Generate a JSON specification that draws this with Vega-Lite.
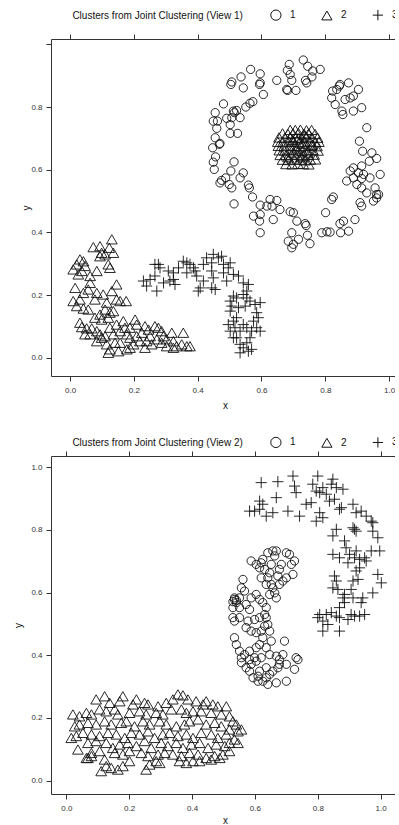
{
"$schema":"https://vega.github.io/schema/vega-lite/v6.json",
"padding":{"left":13,"top":8,"right":-4,"bottom":0},
"bounds":"flush",
"spacing":80,
"config":{"view":{"stroke":null},"font":"Liberation Sans",
 "axis":{"grid":false,"domainColor":"#333","tickColor":"#333","labelColor":"#333","titleColor":"#111","labelFontSize":8,"titleFontSize":10,"titleFontWeight":"normal","tickSize":5,"domainWidth":1,"tickWidth":1,"labelFont":"Liberation Sans","titleFont":"Liberation Sans"},
 "legend":{"padding":0,"titleFontSize":10,"titleFontWeight":"normal","labelFontSize":10,"titleColor":"#111","labelColor":"#111","titleLimit":400,"titlePadding":26.5,"labelOffset":8,"columnPadding":23,"symbolSize":105,"symbolStrokeWidth":1,"symbolStrokeColor":"#111","direction":"horizontal","titleOrient":"left","orient":"none","titleFont":"Liberation Sans","labelFont":"Liberation Sans"}
},
"datasets":{
"v1":[
{"x":0.731,"y":0.950,"c":"1"},{"x":0.745,"y":0.930,"c":"1"},{"x":0.761,"y":0.915,"c":"1"},{"x":0.784,"y":0.920,"c":"1"},{"x":0.687,"y":0.936,"c":"1"},{"x":0.681,"y":0.917,"c":"1"},{"x":0.690,"y":0.904,"c":"1"},{"x":0.566,"y":0.920,"c":"1"},{"x":0.596,"y":0.906,"c":"1"},{"x":0.536,"y":0.896,"c":"1"},{"x":0.507,"y":0.880,"c":"1"},{"x":0.504,"y":0.872,"c":"1"},{"x":0.543,"y":0.861,"c":"1"},{"x":0.596,"y":0.877,"c":"1"},{"x":0.594,"y":0.872,"c":"1"},{"x":0.648,"y":0.885,"c":"1"},{"x":0.695,"y":0.885,"c":"1"},{"x":0.738,"y":0.885,"c":"1"},{"x":0.742,"y":0.877,"c":"1"},{"x":0.682,"y":0.853,"c":"1"},{"x":0.708,"y":0.853,"c":"1"},{"x":0.606,"y":0.840,"c":"1"},{"x":0.573,"y":0.817,"c":"1"},{"x":0.564,"y":0.812,"c":"1"},{"x":0.481,"y":0.810,"c":"1"},{"x":0.455,"y":0.782,"c":"1"},{"x":0.449,"y":0.755,"c":"1"},{"x":0.462,"y":0.755,"c":"1"},{"x":0.491,"y":0.764,"c":"1"},{"x":0.507,"y":0.766,"c":"1"},{"x":0.512,"y":0.787,"c":"1"},{"x":0.522,"y":0.789,"c":"1"},{"x":0.533,"y":0.766,"c":"1"},{"x":0.515,"y":0.782,"c":"1"},{"x":0.551,"y":0.800,"c":"1"},{"x":0.502,"y":0.744,"c":"1"},{"x":0.460,"y":0.732,"c":"1"},{"x":0.502,"y":0.716,"c":"1"},{"x":0.525,"y":0.716,"c":"1"},{"x":0.455,"y":0.702,"c":"1"},{"x":0.468,"y":0.681,"c":"1"},{"x":0.470,"y":0.684,"c":"1"},{"x":0.447,"y":0.670,"c":"1"},{"x":0.456,"y":0.641,"c":"1"},{"x":0.449,"y":0.624,"c":"1"},{"x":0.452,"y":0.601,"c":"1"},{"x":0.514,"y":0.625,"c":"1"},{"x":0.504,"y":0.596,"c":"1"},{"x":0.543,"y":0.590,"c":"1"},{"x":0.533,"y":0.574,"c":"1"},{"x":0.475,"y":0.566,"c":"1"},{"x":0.470,"y":0.558,"c":"1"},{"x":0.499,"y":0.553,"c":"1"},{"x":0.507,"y":0.542,"c":"1"},{"x":0.488,"y":0.574,"c":"1"},{"x":0.559,"y":0.551,"c":"1"},{"x":0.562,"y":0.542,"c":"1"},{"x":0.572,"y":0.513,"c":"1"},{"x":0.596,"y":0.487,"c":"1"},{"x":0.617,"y":0.484,"c":"1"},{"x":0.627,"y":0.505,"c":"1"},{"x":0.648,"y":0.502,"c":"1"},{"x":0.658,"y":0.473,"c":"1"},{"x":0.633,"y":0.484,"c":"1"},{"x":0.514,"y":0.491,"c":"1"},{"x":0.575,"y":0.452,"c":"1"},{"x":0.596,"y":0.457,"c":"1"},{"x":0.594,"y":0.436,"c":"1"},{"x":0.596,"y":0.399,"c":"1"},{"x":0.637,"y":0.441,"c":"1"},{"x":0.690,"y":0.466,"c":"1"},{"x":0.700,"y":0.463,"c":"1"},{"x":0.711,"y":0.436,"c":"1"},{"x":0.737,"y":0.428,"c":"1"},{"x":0.740,"y":0.422,"c":"1"},{"x":0.695,"y":0.399,"c":"1"},{"x":0.684,"y":0.372,"c":"1"},{"x":0.700,"y":0.362,"c":"1"},{"x":0.695,"y":0.351,"c":"1"},{"x":0.716,"y":0.378,"c":"1"},{"x":0.744,"y":0.391,"c":"1"},{"x":0.752,"y":0.364,"c":"1"},{"x":0.789,"y":0.399,"c":"1"},{"x":0.805,"y":0.402,"c":"1"},{"x":0.815,"y":0.401,"c":"1"},{"x":0.848,"y":0.399,"c":"1"},{"x":0.873,"y":0.404,"c":"1"},{"x":0.857,"y":0.436,"c":"1"},{"x":0.846,"y":0.428,"c":"1"},{"x":0.893,"y":0.441,"c":"1"},{"x":0.801,"y":0.463,"c":"1"},{"x":0.825,"y":0.513,"c":"1"},{"x":0.820,"y":0.505,"c":"1"},{"x":0.867,"y":0.564,"c":"1"},{"x":0.888,"y":0.574,"c":"1"},{"x":0.914,"y":0.572,"c":"1"},{"x":0.878,"y":0.596,"c":"1"},{"x":0.904,"y":0.590,"c":"1"},{"x":0.920,"y":0.585,"c":"1"},{"x":0.899,"y":0.553,"c":"1"},{"x":0.914,"y":0.542,"c":"1"},{"x":0.930,"y":0.526,"c":"1"},{"x":0.940,"y":0.574,"c":"1"},{"x":0.972,"y":0.585,"c":"1"},{"x":0.956,"y":0.542,"c":"1"},{"x":0.967,"y":0.521,"c":"1"},{"x":0.961,"y":0.521,"c":"1"},{"x":0.961,"y":0.510,"c":"1"},{"x":0.951,"y":0.500,"c":"1"},{"x":0.909,"y":0.495,"c":"1"},{"x":0.914,"y":0.484,"c":"1"},{"x":0.888,"y":0.606,"c":"1"},{"x":0.914,"y":0.612,"c":"1"},{"x":0.938,"y":0.627,"c":"1"},{"x":0.946,"y":0.654,"c":"1"},{"x":0.961,"y":0.636,"c":"1"},{"x":0.917,"y":0.659,"c":"1"},{"x":0.907,"y":0.691,"c":"1"},{"x":0.930,"y":0.734,"c":"1"},{"x":0.914,"y":0.798,"c":"1"},{"x":0.888,"y":0.787,"c":"1"},{"x":0.878,"y":0.829,"c":"1"},{"x":0.888,"y":0.835,"c":"1"},{"x":0.862,"y":0.824,"c":"1"},{"x":0.904,"y":0.856,"c":"1"},{"x":0.873,"y":0.877,"c":"1"},{"x":0.846,"y":0.872,"c":"1"},{"x":0.836,"y":0.856,"c":"1"},{"x":0.823,"y":0.851,"c":"1"},{"x":0.844,"y":0.867,"c":"1"},{"x":0.820,"y":0.829,"c":"1"},{"x":0.831,"y":0.808,"c":"1"},{"x":0.852,"y":0.787,"c":"1"},{"x":0.855,"y":0.776,"c":"1"},{"x":0.758,"y":0.896,"c":"1"},{"x":0.679,"y":0.856,"c":"1"},
{"x":0.690,"y":0.727,"c":"2"},{"x":0.706,"y":0.727,"c":"2"},{"x":0.722,"y":0.728,"c":"2"},{"x":0.741,"y":0.726,"c":"2"},{"x":0.757,"y":0.727,"c":"2"},
{"x":0.666,"y":0.716,"c":"2"},{"x":0.683,"y":0.714,"c":"2"},{"x":0.699,"y":0.716,"c":"2"},{"x":0.716,"y":0.717,"c":"2"},{"x":0.733,"y":0.715,"c":"2"},{"x":0.748,"y":0.716,"c":"2"},{"x":0.768,"y":0.714,"c":"2"},
{"x":0.655,"y":0.703,"c":"2"},{"x":0.673,"y":0.702,"c":"2"},{"x":0.690,"y":0.704,"c":"2"},{"x":0.707,"y":0.703,"c":"2"},{"x":0.726,"y":0.701,"c":"2"},{"x":0.741,"y":0.704,"c":"2"},{"x":0.758,"y":0.703,"c":"2"},{"x":0.776,"y":0.702,"c":"2"},
{"x":0.651,"y":0.689,"c":"2"},{"x":0.667,"y":0.688,"c":"2"},{"x":0.686,"y":0.690,"c":"2"},{"x":0.701,"y":0.689,"c":"2"},{"x":0.719,"y":0.687,"c":"2"},{"x":0.736,"y":0.689,"c":"2"},{"x":0.753,"y":0.690,"c":"2"},{"x":0.769,"y":0.688,"c":"2"},{"x":0.780,"y":0.689,"c":"2"},
{"x":0.653,"y":0.676,"c":"2"},{"x":0.671,"y":0.675,"c":"2"},{"x":0.689,"y":0.677,"c":"2"},{"x":0.704,"y":0.676,"c":"2"},{"x":0.723,"y":0.674,"c":"2"},{"x":0.739,"y":0.676,"c":"2"},{"x":0.757,"y":0.677,"c":"2"},{"x":0.774,"y":0.675,"c":"2"},
{"x":0.656,"y":0.662,"c":"2"},{"x":0.673,"y":0.661,"c":"2"},{"x":0.691,"y":0.663,"c":"2"},{"x":0.709,"y":0.662,"c":"2"},{"x":0.727,"y":0.660,"c":"2"},{"x":0.744,"y":0.662,"c":"2"},{"x":0.761,"y":0.663,"c":"2"},{"x":0.777,"y":0.661,"c":"2"},
{"x":0.659,"y":0.647,"c":"2"},{"x":0.677,"y":0.646,"c":"2"},{"x":0.694,"y":0.648,"c":"2"},{"x":0.713,"y":0.647,"c":"2"},{"x":0.731,"y":0.645,"c":"2"},{"x":0.747,"y":0.647,"c":"2"},{"x":0.765,"y":0.648,"c":"2"},
{"x":0.666,"y":0.632,"c":"2"},{"x":0.684,"y":0.631,"c":"2"},{"x":0.702,"y":0.633,"c":"2"},{"x":0.719,"y":0.632,"c":"2"},{"x":0.736,"y":0.630,"c":"2"},{"x":0.753,"y":0.632,"c":"2"},{"x":0.769,"y":0.633,"c":"2"},
{"x":0.677,"y":0.618,"c":"2"},{"x":0.696,"y":0.617,"c":"2"},{"x":0.714,"y":0.619,"c":"2"},{"x":0.731,"y":0.618,"c":"2"},{"x":0.748,"y":0.617,"c":"2"},
{"x":0.698,"y":0.695,"c":"2"},{"x":0.712,"y":0.668,"c":"2"},{"x":0.728,"y":0.683,"c":"2"},{"x":0.745,"y":0.655,"c":"2"},{"x":0.683,"y":0.640,"c":"2"},{"x":0.735,"y":0.710,"c":"2"},{"x":0.700,"y":0.655,"c":"2"},{"x":0.725,"y":0.640,"c":"2"},{"x":0.715,"y":0.700,"c":"2"},{"x":0.760,"y":0.680,"c":"2"},
{"x":0.131,"y":0.378,"c":"2"},{"x":0.094,"y":0.356,"c":"2"},{"x":0.073,"y":0.353,"c":"2"},{"x":0.099,"y":0.335,"c":"2"},{"x":0.123,"y":0.351,"c":"2"},{"x":0.136,"y":0.335,"c":"2"},{"x":0.031,"y":0.314,"c":"2"},{"x":0.042,"y":0.308,"c":"2"},{"x":0.021,"y":0.298,"c":"2"},{"x":0.047,"y":0.293,"c":"2"},{"x":0.010,"y":0.282,"c":"2"},{"x":0.037,"y":0.277,"c":"2"},{"x":0.026,"y":0.266,"c":"2"},{"x":0.084,"y":0.277,"c":"2"},{"x":0.063,"y":0.261,"c":"2"},{"x":0.120,"y":0.298,"c":"2"},{"x":0.125,"y":0.287,"c":"2"},{"x":0.094,"y":0.324,"c":"2"},{"x":0.110,"y":0.330,"c":"2"},{"x":0.146,"y":0.234,"c":"2"},{"x":0.131,"y":0.213,"c":"2"},{"x":0.146,"y":0.186,"c":"2"},{"x":0.157,"y":0.181,"c":"2"},{"x":0.176,"y":0.181,"c":"2"},{"x":0.115,"y":0.176,"c":"2"},{"x":0.084,"y":0.207,"c":"2"},{"x":0.104,"y":0.202,"c":"2"},{"x":0.063,"y":0.239,"c":"2"},{"x":0.057,"y":0.218,"c":"2"},{"x":0.042,"y":0.207,"c":"2"},{"x":0.078,"y":0.186,"c":"2"},{"x":0.031,"y":0.186,"c":"2"},{"x":0.016,"y":0.223,"c":"2"},{"x":0.010,"y":0.181,"c":"2"},{"x":0.021,"y":0.165,"c":"2"},{"x":0.057,"y":0.154,"c":"2"},{"x":0.042,"y":0.157,"c":"2"},{"x":0.110,"y":0.154,"c":"2"},{"x":0.125,"y":0.144,"c":"2"},{"x":0.136,"y":0.149,"c":"2"},{"x":0.120,"y":0.128,"c":"2"},{"x":0.099,"y":0.122,"c":"2"},{"x":0.094,"y":0.138,"c":"2"},{"x":0.078,"y":0.128,"c":"2"},{"x":0.031,"y":0.112,"c":"2"},{"x":0.037,"y":0.098,"c":"2"},{"x":0.052,"y":0.094,"c":"2"},{"x":0.068,"y":0.094,"c":"2"},{"x":0.084,"y":0.085,"c":"2"},{"x":0.094,"y":0.075,"c":"2"},{"x":0.110,"y":0.069,"c":"2"},{"x":0.125,"y":0.096,"c":"2"},{"x":0.136,"y":0.075,"c":"2"},{"x":0.146,"y":0.106,"c":"2"},{"x":0.157,"y":0.085,"c":"2"},{"x":0.172,"y":0.096,"c":"2"},{"x":0.178,"y":0.075,"c":"2"},{"x":0.188,"y":0.064,"c":"2"},{"x":0.204,"y":0.122,"c":"2"},{"x":0.209,"y":0.069,"c":"2"},{"x":0.225,"y":0.080,"c":"2"},{"x":0.235,"y":0.101,"c":"2"},{"x":0.246,"y":0.090,"c":"2"},{"x":0.251,"y":0.069,"c":"2"},{"x":0.266,"y":0.101,"c":"2"},{"x":0.277,"y":0.096,"c":"2"},{"x":0.287,"y":0.085,"c":"2"},{"x":0.293,"y":0.069,"c":"2"},{"x":0.303,"y":0.059,"c":"2"},{"x":0.272,"y":0.059,"c":"2"},{"x":0.240,"y":0.053,"c":"2"},{"x":0.219,"y":0.053,"c":"2"},{"x":0.199,"y":0.043,"c":"2"},{"x":0.178,"y":0.027,"c":"2"},{"x":0.152,"y":0.021,"c":"2"},{"x":0.125,"y":0.027,"c":"2"},{"x":0.120,"y":0.016,"c":"2"},{"x":0.188,"y":0.032,"c":"2"},{"x":0.157,"y":0.048,"c":"2"},{"x":0.319,"y":0.080,"c":"2"},{"x":0.355,"y":0.080,"c":"2"},{"x":0.324,"y":0.053,"c":"2"},{"x":0.324,"y":0.032,"c":"2"},{"x":0.334,"y":0.037,"c":"2"},{"x":0.350,"y":0.043,"c":"2"},{"x":0.366,"y":0.037,"c":"2"},{"x":0.376,"y":0.037,"c":"2"},{"x":0.303,"y":0.037,"c":"2"},{"x":0.287,"y":0.048,"c":"2"},{"x":0.115,"y":0.043,"c":"2"},{"x":0.099,"y":0.064,"c":"2"},{"x":0.063,"y":0.075,"c":"2"},{"x":0.141,"y":0.048,"c":"2"},{"x":0.209,"y":0.106,"c":"2"},{"x":0.167,"y":0.117,"c":"2"},{"x":0.188,"y":0.096,"c":"2"},{"x":0.256,"y":0.043,"c":"2"},{"x":0.235,"y":0.032,"c":"2"},{"x":0.047,"y":0.075,"c":"2"},{"x":0.084,"y":0.053,"c":"2"},
{"x":0.230,"y":0.245,"c":"3"},{"x":0.251,"y":0.250,"c":"3"},{"x":0.266,"y":0.261,"c":"3"},{"x":0.277,"y":0.298,"c":"3"},{"x":0.282,"y":0.287,"c":"3"},{"x":0.272,"y":0.213,"c":"3"},{"x":0.293,"y":0.239,"c":"3"},{"x":0.313,"y":0.245,"c":"3"},{"x":0.324,"y":0.250,"c":"3"},{"x":0.329,"y":0.234,"c":"3"},{"x":0.308,"y":0.277,"c":"3"},{"x":0.324,"y":0.271,"c":"3"},{"x":0.355,"y":0.308,"c":"3"},{"x":0.366,"y":0.303,"c":"3"},{"x":0.376,"y":0.298,"c":"3"},{"x":0.387,"y":0.287,"c":"3"},{"x":0.392,"y":0.277,"c":"3"},{"x":0.397,"y":0.261,"c":"3"},{"x":0.408,"y":0.223,"c":"3"},{"x":0.402,"y":0.213,"c":"3"},{"x":0.418,"y":0.245,"c":"3"},{"x":0.428,"y":0.319,"c":"3"},{"x":0.444,"y":0.303,"c":"3"},{"x":0.449,"y":0.330,"c":"3"},{"x":0.465,"y":0.319,"c":"3"},{"x":0.475,"y":0.324,"c":"3"},{"x":0.481,"y":0.298,"c":"3"},{"x":0.444,"y":0.277,"c":"3"},{"x":0.449,"y":0.255,"c":"3"},{"x":0.455,"y":0.218,"c":"3"},{"x":0.444,"y":0.223,"c":"3"},{"x":0.496,"y":0.287,"c":"3"},{"x":0.502,"y":0.303,"c":"3"},{"x":0.512,"y":0.266,"c":"3"},{"x":0.528,"y":0.261,"c":"3"},{"x":0.543,"y":0.239,"c":"3"},{"x":0.559,"y":0.234,"c":"3"},{"x":0.554,"y":0.213,"c":"3"},{"x":0.543,"y":0.202,"c":"3"},{"x":0.554,"y":0.191,"c":"3"},{"x":0.564,"y":0.181,"c":"3"},{"x":0.580,"y":0.170,"c":"3"},{"x":0.596,"y":0.176,"c":"3"},{"x":0.585,"y":0.144,"c":"3"},{"x":0.590,"y":0.128,"c":"3"},{"x":0.575,"y":0.117,"c":"3"},{"x":0.569,"y":0.085,"c":"3"},{"x":0.564,"y":0.064,"c":"3"},{"x":0.554,"y":0.048,"c":"3"},{"x":0.559,"y":0.021,"c":"3"},{"x":0.543,"y":0.032,"c":"3"},{"x":0.533,"y":0.043,"c":"3"},{"x":0.522,"y":0.064,"c":"3"},{"x":0.517,"y":0.096,"c":"3"},{"x":0.512,"y":0.117,"c":"3"},{"x":0.502,"y":0.149,"c":"3"},{"x":0.507,"y":0.165,"c":"3"},{"x":0.528,"y":0.160,"c":"3"},{"x":0.549,"y":0.165,"c":"3"},{"x":0.522,"y":0.191,"c":"3"},{"x":0.512,"y":0.197,"c":"3"},{"x":0.502,"y":0.181,"c":"3"},{"x":0.522,"y":0.128,"c":"3"},{"x":0.543,"y":0.106,"c":"3"},{"x":0.533,"y":0.085,"c":"3"},{"x":0.554,"y":0.096,"c":"3"},{"x":0.585,"y":0.096,"c":"3"},{"x":0.596,"y":0.085,"c":"3"},{"x":0.502,"y":0.085,"c":"3"},{"x":0.512,"y":0.064,"c":"3"},{"x":0.496,"y":0.106,"c":"3"},{"x":0.533,"y":0.016,"c":"3"},{"x":0.569,"y":0.027,"c":"3"},{"x":0.340,"y":0.287,"c":"3"},{"x":0.418,"y":0.298,"c":"3"},{"x":0.266,"y":0.298,"c":"3"},{"x":0.491,"y":0.245,"c":"3"},{"x":0.366,"y":0.271,"c":"3"},{"x":0.240,"y":0.229,"c":"3"},{"x":0.481,"y":0.271,"c":"3"}
],
"v2":[
{"x":0.657,"y":0.733,"c":"1"},{"x":0.641,"y":0.727,"c":"1"},{"x":0.625,"y":0.706,"c":"1"},{"x":0.620,"y":0.695,"c":"1"},{"x":0.663,"y":0.717,"c":"1"},{"x":0.668,"y":0.733,"c":"1"},{"x":0.700,"y":0.727,"c":"1"},{"x":0.710,"y":0.722,"c":"1"},{"x":0.726,"y":0.701,"c":"1"},{"x":0.716,"y":0.690,"c":"1"},{"x":0.721,"y":0.658,"c":"1"},{"x":0.700,"y":0.647,"c":"1"},{"x":0.678,"y":0.674,"c":"1"},{"x":0.684,"y":0.690,"c":"1"},{"x":0.673,"y":0.653,"c":"1"},{"x":0.652,"y":0.690,"c":"1"},{"x":0.647,"y":0.663,"c":"1"},{"x":0.641,"y":0.647,"c":"1"},{"x":0.631,"y":0.674,"c":"1"},{"x":0.615,"y":0.679,"c":"1"},{"x":0.604,"y":0.690,"c":"1"},{"x":0.588,"y":0.701,"c":"1"},{"x":0.620,"y":0.647,"c":"1"},{"x":0.636,"y":0.626,"c":"1"},{"x":0.652,"y":0.626,"c":"1"},{"x":0.657,"y":0.615,"c":"1"},{"x":0.663,"y":0.599,"c":"1"},{"x":0.668,"y":0.583,"c":"1"},{"x":0.647,"y":0.594,"c":"1"},{"x":0.678,"y":0.626,"c":"1"},{"x":0.689,"y":0.637,"c":"1"},{"x":0.562,"y":0.642,"c":"1"},{"x":0.557,"y":0.615,"c":"1"},{"x":0.567,"y":0.605,"c":"1"},{"x":0.551,"y":0.583,"c":"1"},{"x":0.535,"y":0.583,"c":"1"},{"x":0.541,"y":0.568,"c":"1"},{"x":0.530,"y":0.552,"c":"1"},{"x":0.551,"y":0.552,"c":"1"},{"x":0.572,"y":0.562,"c":"1"},{"x":0.583,"y":0.546,"c":"1"},{"x":0.588,"y":0.583,"c":"1"},{"x":0.604,"y":0.594,"c":"1"},{"x":0.615,"y":0.578,"c":"1"},{"x":0.625,"y":0.568,"c":"1"},{"x":0.636,"y":0.552,"c":"1"},{"x":0.631,"y":0.530,"c":"1"},{"x":0.636,"y":0.520,"c":"1"},{"x":0.615,"y":0.520,"c":"1"},{"x":0.599,"y":0.514,"c":"1"},{"x":0.578,"y":0.509,"c":"1"},{"x":0.572,"y":0.488,"c":"1"},{"x":0.588,"y":0.477,"c":"1"},{"x":0.604,"y":0.472,"c":"1"},{"x":0.620,"y":0.477,"c":"1"},{"x":0.631,"y":0.493,"c":"1"},{"x":0.641,"y":0.498,"c":"1"},{"x":0.647,"y":0.477,"c":"1"},{"x":0.625,"y":0.456,"c":"1"},{"x":0.615,"y":0.434,"c":"1"},{"x":0.604,"y":0.424,"c":"1"},{"x":0.583,"y":0.413,"c":"1"},{"x":0.567,"y":0.402,"c":"1"},{"x":0.557,"y":0.392,"c":"1"},{"x":0.551,"y":0.413,"c":"1"},{"x":0.541,"y":0.434,"c":"1"},{"x":0.535,"y":0.456,"c":"1"},{"x":0.530,"y":0.520,"c":"1"},{"x":0.535,"y":0.509,"c":"1"},{"x":0.551,"y":0.520,"c":"1"},{"x":0.694,"y":0.445,"c":"1"},{"x":0.652,"y":0.445,"c":"1"},{"x":0.636,"y":0.424,"c":"1"},{"x":0.647,"y":0.402,"c":"1"},{"x":0.668,"y":0.397,"c":"1"},{"x":0.678,"y":0.386,"c":"1"},{"x":0.689,"y":0.402,"c":"1"},{"x":0.678,"y":0.371,"c":"1"},{"x":0.700,"y":0.371,"c":"1"},{"x":0.673,"y":0.360,"c":"1"},{"x":0.657,"y":0.349,"c":"1"},{"x":0.647,"y":0.339,"c":"1"},{"x":0.636,"y":0.328,"c":"1"},{"x":0.625,"y":0.317,"c":"1"},{"x":0.610,"y":0.317,"c":"1"},{"x":0.594,"y":0.328,"c":"1"},{"x":0.583,"y":0.349,"c":"1"},{"x":0.588,"y":0.371,"c":"1"},{"x":0.604,"y":0.381,"c":"1"},{"x":0.620,"y":0.392,"c":"1"},{"x":0.599,"y":0.392,"c":"1"},{"x":0.583,"y":0.386,"c":"1"},{"x":0.557,"y":0.376,"c":"1"},{"x":0.572,"y":0.360,"c":"1"},{"x":0.726,"y":0.355,"c":"1"},{"x":0.731,"y":0.392,"c":"1"},{"x":0.737,"y":0.386,"c":"1"},{"x":0.610,"y":0.333,"c":"1"},{"x":0.615,"y":0.349,"c":"1"},{"x":0.641,"y":0.307,"c":"1"},{"x":0.668,"y":0.312,"c":"1"},{"x":0.700,"y":0.317,"c":"1"},{"x":0.636,"y":0.360,"c":"1"},{"x":0.535,"y":0.578,"c":"1"},{"x":0.541,"y":0.575,"c":"1"},{"x":0.530,"y":0.571,"c":"1"},
{"x":0.122,"y":0.269,"c":"2"},{"x":0.180,"y":0.269,"c":"2"},{"x":0.223,"y":0.259,"c":"2"},{"x":0.249,"y":0.248,"c":"2"},{"x":0.355,"y":0.275,"c":"2"},{"x":0.371,"y":0.272,"c":"2"},{"x":0.339,"y":0.259,"c":"2"},{"x":0.387,"y":0.259,"c":"2"},{"x":0.413,"y":0.253,"c":"2"},{"x":0.445,"y":0.253,"c":"2"},{"x":0.318,"y":0.248,"c":"2"},{"x":0.170,"y":0.253,"c":"2"},{"x":0.095,"y":0.259,"c":"2"},{"x":0.138,"y":0.248,"c":"2"},{"x":0.212,"y":0.243,"c":"2"},{"x":0.260,"y":0.243,"c":"2"},{"x":0.292,"y":0.237,"c":"2"},{"x":0.482,"y":0.237,"c":"2"},{"x":0.466,"y":0.243,"c":"2"},{"x":0.435,"y":0.243,"c":"2"},{"x":0.509,"y":0.237,"c":"2"},
{"x":0.021,"y":0.211,"c":"2"},{"x":0.042,"y":0.205,"c":"2"},{"x":0.064,"y":0.216,"c":"2"},{"x":0.080,"y":0.211,"c":"2"},{"x":0.106,"y":0.227,"c":"2"},{"x":0.127,"y":0.221,"c":"2"},{"x":0.154,"y":0.227,"c":"2"},{"x":0.164,"y":0.211,"c":"2"},{"x":0.201,"y":0.216,"c":"2"},{"x":0.233,"y":0.221,"c":"2"},{"x":0.254,"y":0.211,"c":"2"},{"x":0.286,"y":0.216,"c":"2"},{"x":0.307,"y":0.211,"c":"2"},{"x":0.334,"y":0.227,"c":"2"},{"x":0.366,"y":0.227,"c":"2"},{"x":0.382,"y":0.216,"c":"2"},{"x":0.403,"y":0.221,"c":"2"},{"x":0.429,"y":0.221,"c":"2"},{"x":0.461,"y":0.216,"c":"2"},{"x":0.493,"y":0.211,"c":"2"},{"x":0.530,"y":0.189,"c":"2"},{"x":0.541,"y":0.179,"c":"2"},{"x":0.519,"y":0.205,"c":"2"},
{"x":0.016,"y":0.136,"c":"2"},{"x":0.027,"y":0.173,"c":"2"},{"x":0.042,"y":0.179,"c":"2"},{"x":0.069,"y":0.184,"c":"2"},{"x":0.095,"y":0.179,"c":"2"},{"x":0.122,"y":0.189,"c":"2"},{"x":0.143,"y":0.179,"c":"2"},{"x":0.175,"y":0.184,"c":"2"},{"x":0.191,"y":0.189,"c":"2"},{"x":0.217,"y":0.173,"c":"2"},{"x":0.244,"y":0.189,"c":"2"},{"x":0.265,"y":0.179,"c":"2"},{"x":0.297,"y":0.189,"c":"2"},{"x":0.318,"y":0.179,"c":"2"},{"x":0.350,"y":0.173,"c":"2"},{"x":0.376,"y":0.179,"c":"2"},{"x":0.392,"y":0.189,"c":"2"},{"x":0.419,"y":0.195,"c":"2"},{"x":0.445,"y":0.179,"c":"2"},{"x":0.472,"y":0.184,"c":"2"},{"x":0.493,"y":0.173,"c":"2"},{"x":0.519,"y":0.163,"c":"2"},{"x":0.546,"y":0.157,"c":"2"},{"x":0.557,"y":0.163,"c":"2"},
{"x":0.032,"y":0.142,"c":"2"},{"x":0.053,"y":0.152,"c":"2"},{"x":0.080,"y":0.147,"c":"2"},{"x":0.106,"y":0.142,"c":"2"},{"x":0.133,"y":0.152,"c":"2"},{"x":0.159,"y":0.147,"c":"2"},{"x":0.186,"y":0.136,"c":"2"},{"x":0.207,"y":0.152,"c":"2"},{"x":0.233,"y":0.147,"c":"2"},{"x":0.260,"y":0.157,"c":"2"},{"x":0.281,"y":0.136,"c":"2"},{"x":0.307,"y":0.147,"c":"2"},{"x":0.329,"y":0.152,"c":"2"},{"x":0.355,"y":0.142,"c":"2"},{"x":0.382,"y":0.147,"c":"2"},{"x":0.403,"y":0.136,"c":"2"},{"x":0.429,"y":0.152,"c":"2"},{"x":0.461,"y":0.147,"c":"2"},{"x":0.482,"y":0.136,"c":"2"},{"x":0.509,"y":0.147,"c":"2"},{"x":0.535,"y":0.131,"c":"2"},{"x":0.546,"y":0.120,"c":"2"},
{"x":0.037,"y":0.099,"c":"2"},{"x":0.069,"y":0.120,"c":"2"},{"x":0.095,"y":0.126,"c":"2"},{"x":0.127,"y":0.120,"c":"2"},{"x":0.148,"y":0.104,"c":"2"},{"x":0.170,"y":0.115,"c":"2"},{"x":0.196,"y":0.120,"c":"2"},{"x":0.223,"y":0.110,"c":"2"},{"x":0.249,"y":0.126,"c":"2"},{"x":0.270,"y":0.104,"c":"2"},{"x":0.302,"y":0.120,"c":"2"},{"x":0.323,"y":0.110,"c":"2"},{"x":0.350,"y":0.120,"c":"2"},{"x":0.371,"y":0.104,"c":"2"},{"x":0.398,"y":0.115,"c":"2"},{"x":0.424,"y":0.120,"c":"2"},{"x":0.451,"y":0.104,"c":"2"},{"x":0.477,"y":0.115,"c":"2"},{"x":0.504,"y":0.110,"c":"2"},{"x":0.519,"y":0.120,"c":"2"},
{"x":0.064,"y":0.072,"c":"2"},{"x":0.080,"y":0.088,"c":"2"},{"x":0.106,"y":0.094,"c":"2"},{"x":0.122,"y":0.067,"c":"2"},{"x":0.154,"y":0.088,"c":"2"},{"x":0.180,"y":0.083,"c":"2"},{"x":0.201,"y":0.094,"c":"2"},{"x":0.239,"y":0.088,"c":"2"},{"x":0.260,"y":0.078,"c":"2"},{"x":0.292,"y":0.083,"c":"2"},{"x":0.313,"y":0.088,"c":"2"},{"x":0.339,"y":0.083,"c":"2"},{"x":0.366,"y":0.078,"c":"2"},{"x":0.392,"y":0.088,"c":"2"},{"x":0.419,"y":0.083,"c":"2"},{"x":0.445,"y":0.072,"c":"2"},{"x":0.472,"y":0.078,"c":"2"},{"x":0.498,"y":0.083,"c":"2"},{"x":0.519,"y":0.094,"c":"2"},
{"x":0.111,"y":0.030,"c":"2"},{"x":0.127,"y":0.046,"c":"2"},{"x":0.143,"y":0.040,"c":"2"},{"x":0.164,"y":0.035,"c":"2"},{"x":0.180,"y":0.046,"c":"2"},{"x":0.201,"y":0.062,"c":"2"},{"x":0.254,"y":0.035,"c":"2"},{"x":0.265,"y":0.051,"c":"2"},{"x":0.286,"y":0.062,"c":"2"},{"x":0.297,"y":0.056,"c":"2"},{"x":0.360,"y":0.062,"c":"2"},{"x":0.382,"y":0.056,"c":"2"},{"x":0.403,"y":0.062,"c":"2"},{"x":0.424,"y":0.062,"c":"2"},{"x":0.461,"y":0.067,"c":"2"},{"x":0.488,"y":0.072,"c":"2"},{"x":0.069,"y":0.072,"c":"2"},{"x":0.080,"y":0.078,"c":"2"},
{"x":0.620,"y":0.951,"c":"3"},{"x":0.673,"y":0.954,"c":"3"},{"x":0.721,"y":0.972,"c":"3"},{"x":0.726,"y":0.940,"c":"3"},{"x":0.731,"y":0.919,"c":"3"},{"x":0.800,"y":0.972,"c":"3"},{"x":0.784,"y":0.946,"c":"3"},{"x":0.795,"y":0.924,"c":"3"},{"x":0.806,"y":0.919,"c":"3"},{"x":0.816,"y":0.935,"c":"3"},{"x":0.848,"y":0.962,"c":"3"},{"x":0.843,"y":0.946,"c":"3"},{"x":0.859,"y":0.935,"c":"3"},{"x":0.880,"y":0.930,"c":"3"},{"x":0.827,"y":0.914,"c":"3"},{"x":0.837,"y":0.892,"c":"3"},{"x":0.853,"y":0.898,"c":"3"},{"x":0.779,"y":0.887,"c":"3"},{"x":0.763,"y":0.882,"c":"3"},{"x":0.583,"y":0.860,"c":"3"},{"x":0.599,"y":0.860,"c":"3"},{"x":0.615,"y":0.866,"c":"3"},{"x":0.625,"y":0.882,"c":"3"},{"x":0.636,"y":0.844,"c":"3"},{"x":0.657,"y":0.855,"c":"3"},{"x":0.668,"y":0.903,"c":"3"},{"x":0.615,"y":0.892,"c":"3"},{"x":0.705,"y":0.860,"c":"3"},{"x":0.742,"y":0.844,"c":"3"},{"x":0.795,"y":0.828,"c":"3"},{"x":0.816,"y":0.839,"c":"3"},{"x":0.806,"y":0.855,"c":"3"},{"x":0.869,"y":0.866,"c":"3"},{"x":0.875,"y":0.871,"c":"3"},{"x":0.912,"y":0.882,"c":"3"},{"x":0.922,"y":0.855,"c":"3"},{"x":0.938,"y":0.860,"c":"3"},{"x":0.954,"y":0.844,"c":"3"},{"x":0.970,"y":0.828,"c":"3"},{"x":0.975,"y":0.823,"c":"3"},{"x":0.991,"y":0.775,"c":"3"},{"x":0.975,"y":0.796,"c":"3"},{"x":0.912,"y":0.807,"c":"3"},{"x":0.917,"y":0.802,"c":"3"},{"x":0.922,"y":0.796,"c":"3"},{"x":0.859,"y":0.802,"c":"3"},{"x":0.848,"y":0.781,"c":"3"},{"x":0.885,"y":0.765,"c":"3"},{"x":0.890,"y":0.743,"c":"3"},{"x":0.922,"y":0.733,"c":"3"},{"x":0.917,"y":0.711,"c":"3"},{"x":0.933,"y":0.706,"c":"3"},{"x":0.949,"y":0.711,"c":"3"},{"x":0.970,"y":0.733,"c":"3"},{"x":0.997,"y":0.733,"c":"3"},{"x":0.954,"y":0.701,"c":"3"},{"x":0.933,"y":0.679,"c":"3"},{"x":0.922,"y":0.669,"c":"3"},{"x":0.912,"y":0.637,"c":"3"},{"x":0.928,"y":0.642,"c":"3"},{"x":0.991,"y":0.658,"c":"3"},{"x":1.002,"y":0.631,"c":"3"},{"x":0.975,"y":0.599,"c":"3"},{"x":0.938,"y":0.568,"c":"3"},{"x":0.912,"y":0.583,"c":"3"},{"x":0.885,"y":0.594,"c":"3"},{"x":0.885,"y":0.568,"c":"3"},{"x":0.859,"y":0.637,"c":"3"},{"x":0.853,"y":0.653,"c":"3"},{"x":0.848,"y":0.615,"c":"3"},{"x":0.864,"y":0.610,"c":"3"},{"x":0.880,"y":0.583,"c":"3"},{"x":0.869,"y":0.552,"c":"3"},{"x":0.859,"y":0.525,"c":"3"},{"x":0.843,"y":0.536,"c":"3"},{"x":0.827,"y":0.530,"c":"3"},{"x":0.806,"y":0.530,"c":"3"},{"x":0.800,"y":0.520,"c":"3"},{"x":0.816,"y":0.477,"c":"3"},{"x":0.832,"y":0.498,"c":"3"},{"x":0.869,"y":0.477,"c":"3"},{"x":0.896,"y":0.514,"c":"3"},{"x":0.906,"y":0.530,"c":"3"},{"x":0.917,"y":0.525,"c":"3"},{"x":0.933,"y":0.525,"c":"3"},{"x":0.949,"y":0.530,"c":"3"},{"x":0.869,"y":0.520,"c":"3"},{"x":0.848,"y":0.722,"c":"3"},{"x":0.869,"y":0.711,"c":"3"},{"x":0.901,"y":0.722,"c":"3"},{"x":0.896,"y":0.695,"c":"3"},{"x":0.906,"y":0.610,"c":"3"},{"x":0.816,"y":0.509,"c":"3"},{"x":0.943,"y":0.583,"c":"3"}
]
},
"vconcat":[
{"width":348,"height":337,"data":{"name":"v1"},
 "encoding":{
   "y":{"field":"y","type":"quantitative","scale":{"domain":[-0.058,1.017],"nice":false,"zero":false},"axis":{"values":[0,0.2,0.4,0.6,0.8,1],"labelExpr":"datum.value > 0.95 ? '' : format(datum.value, '.1f')","labelPadding":4,"title":"y","titleX":-24.6,"titleBaseline":"middle","labelFlush":false}}
 },
 "layer":[
  {"transform":[{"filter":"datum.c == '1'"}],
   "mark":{"type":"point","filled":false,"color":"#111","strokeWidth":0.9,"opacity":1,"size":68},
   "encoding":{
    "x":{"field":"x","type":"quantitative","scale":{"domain":[-0.0596,1.031],"nice":false,"zero":false},"axis":{"values":[0,0.2,0.4,0.6,0.8,1],"format":".1f","labelPadding":5,"title":"x","titlePadding":6,"labelFlush":false}},
    "shape":{"field":"c","type":"nominal","scale":{"domain":["1","2","3"],"range":["circle","triangle-up","M-1,0H1M0,-1V1"]},"legend":{"title":"Clusters from Joint Clustering (View 1)","legendX":21.4,"legendY":-30.3}}
   }},
  {"transform":[{"filter":"datum.c == '2'"}],
   "mark":{"type":"point","filled":false,"color":"#111","strokeWidth":0.9,"opacity":1,"size":115},
   "encoding":{
    "x":{"field":"x","type":"quantitative","scale":{"domain":[-0.0596,1.031],"nice":false,"zero":false},"axis":null},
    "shape":{"field":"c","type":"nominal","scale":{"domain":["1","2","3"],"range":["circle","triangle-up","M-1,0H1M0,-1V1"]},"legend":{"title":"Clusters from Joint Clustering (View 1)","legendX":21.4,"legendY":-30.3}}
   }},
  {"transform":[{"filter":"datum.c == '3'"}],
   "mark":{"type":"point","filled":false,"color":"#111","strokeWidth":0.9,"opacity":1,"size":125},
   "encoding":{
    "x":{"field":"x","type":"quantitative","scale":{"domain":[-0.0596,1.031],"nice":false,"zero":false},"axis":null},
    "shape":{"field":"c","type":"nominal","scale":{"domain":["1","2","3"],"range":["circle","triangle-up","M-1,0H1M0,-1V1"]},"legend":{"title":"Clusters from Joint Clustering (View 1)","legendX":21.4,"legendY":-30.3}}
   }},
  {"mark":{"type":"point","opacity":0},
   "encoding":{
    "x":{"field":"x","type":"quantitative","scale":{"domain":[-0.0596,1.031],"nice":false,"zero":false},"axis":{"orient":"top","values":[0,0.2,0.4,0.6,0.8,1],"labels":false,"title":null}}
   }}
 ],
 "resolve":{"axis":{"x":"independent"}}
},
{"width":348,"height":338,"data":{"name":"v2"},
 "encoding":{
   "y":{"field":"y","type":"quantitative","scale":{"domain":[-0.043,1.036],"nice":false,"zero":false},"axis":{"values":[0,0.2,0.4,0.6,0.8,1],"format":".1f","labelPadding":4,"title":"y","titleX":-33,"titleBaseline":"middle","labelFlush":false}}
 },
 "layer":[
  {"transform":[{"filter":"datum.c == '1'"}],
   "mark":{"type":"point","filled":false,"color":"#111","strokeWidth":0.9,"opacity":1,"size":68},
   "encoding":{
    "x":{"field":"x","type":"quantitative","scale":{"domain":[-0.0486,1.0583],"nice":false,"zero":false},"axis":{"values":[0,0.2,0.4,0.6,0.8,1],"format":".1f","labelPadding":5,"title":"x","titlePadding":3,"labelFlush":false}},
    "shape":{"field":"c","type":"nominal","scale":{"domain":["1","2","3"],"range":["circle","triangle-up","M-1,0H1M0,-1V1"]},"legend":{"title":"Clusters from Joint Clustering (View 2)","legendX":21.4,"legendY":-20}}
   }},
  {"transform":[{"filter":"datum.c == '2'"}],
   "mark":{"type":"point","filled":false,"color":"#111","strokeWidth":0.9,"opacity":1,"size":115},
   "encoding":{
    "x":{"field":"x","type":"quantitative","scale":{"domain":[-0.0486,1.0583],"nice":false,"zero":false},"axis":null},
    "shape":{"field":"c","type":"nominal","scale":{"domain":["1","2","3"],"range":["circle","triangle-up","M-1,0H1M0,-1V1"]},"legend":{"title":"Clusters from Joint Clustering (View 2)","legendX":21.4,"legendY":-20}}
   }},
  {"transform":[{"filter":"datum.c == '3'"}],
   "mark":{"type":"point","filled":false,"color":"#111","strokeWidth":0.9,"opacity":1,"size":125},
   "encoding":{
    "x":{"field":"x","type":"quantitative","scale":{"domain":[-0.0486,1.0583],"nice":false,"zero":false},"axis":null},
    "shape":{"field":"c","type":"nominal","scale":{"domain":["1","2","3"],"range":["circle","triangle-up","M-1,0H1M0,-1V1"]},"legend":{"title":"Clusters from Joint Clustering (View 2)","legendX":21.4,"legendY":-20}}
   }},
  {"mark":{"type":"point","opacity":0},
   "encoding":{
    "x":{"field":"x","type":"quantitative","scale":{"domain":[-0.0486,1.0583],"nice":false,"zero":false},"axis":{"orient":"top","values":[0,0.2,0.4,0.6,0.8,1],"labels":false,"title":null}}
   }}
 ],
 "resolve":{"axis":{"x":"independent"}}
}
],
"resolve":{"scale":{"x":"independent","y":"independent","shape":"independent"},"legend":{"shape":"independent"}}
}
